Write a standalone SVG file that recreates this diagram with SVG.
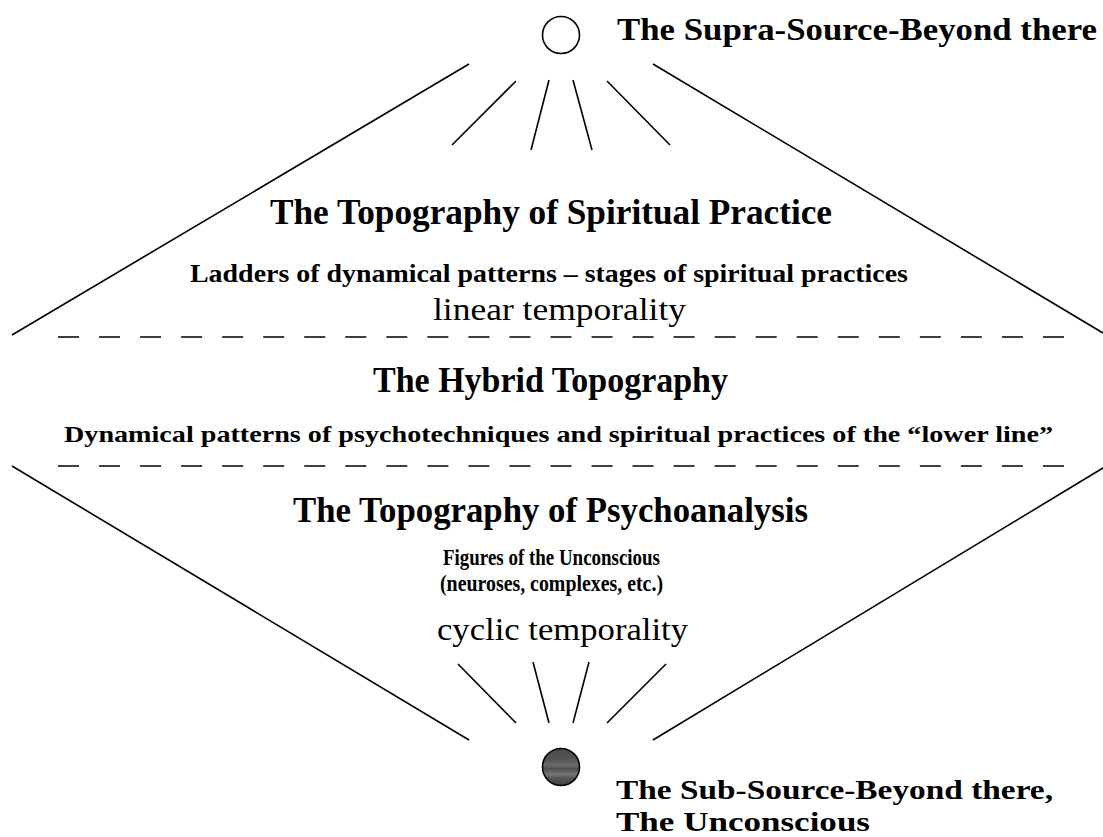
<svg xmlns="http://www.w3.org/2000/svg" width="1103" height="837" viewBox="0 0 1103 837">
<style>
.ln{stroke:#000;stroke-width:1.6;fill:none;stroke-linecap:butt}
.dash{stroke:#000;stroke-width:1.6;fill:none;stroke-dasharray:21 20.04}
.b{font-family:"Liberation Serif","Times New Roman",serif;font-weight:bold;fill:#000}
.r{font-family:"Liberation Serif","Times New Roman",serif;font-weight:normal;fill:#000}
.t1{font-size:36px}
.t2{font-size:26px}
.t2b{font-size:24px}
.t3{font-size:24px}
.t4{font-size:32px}
.src{font-size:31px}
.sub{font-size:28px}
</style>
<defs>
<linearGradient id="dark" x1="0" y1="0" x2="0" y2="1">
<stop offset="0" stop-color="#4a4a4a"/>
<stop offset="0.3" stop-color="#555"/>
<stop offset="0.45" stop-color="#6a6a6a"/>
<stop offset="0.55" stop-color="#505050"/>
<stop offset="0.7" stop-color="#777"/>
<stop offset="0.8" stop-color="#555"/>
<stop offset="1" stop-color="#444"/>
</linearGradient>
</defs>
<rect width="1103" height="837" fill="#fff"/>
<g id="connectors">
<line class="ln" x1="469" y1="64" x2="12" y2="335"/>
<line class="ln" x1="653" y1="64" x2="1103" y2="333"/>
<line class="ln" x1="516" y1="81" x2="452" y2="145"/>
<line class="ln" x1="549" y1="80" x2="531" y2="150"/>
<line class="ln" x1="573" y1="80" x2="592" y2="150"/>
<line class="ln" x1="607" y1="81" x2="670" y2="145"/>
<line class="ln" x1="12" y1="466" x2="469" y2="740"/>
<line class="ln" x1="1103" y1="468" x2="653" y2="740"/>
<line class="ln" x1="458" y1="664" x2="516" y2="723"/>
<line class="ln" x1="533" y1="662" x2="549" y2="723"/>
<line class="ln" x1="589" y1="662" x2="573" y2="723"/>
<line class="ln" x1="666" y1="664" x2="607" y2="723"/>
<line class="dash" x1="58" y1="337" x2="1064" y2="337"/>
<line class="dash" x1="58" y1="466" x2="1064" y2="466"/>
</g>
<g id="supra-source">
<circle cx="561" cy="35" r="18.5" fill="#fff" stroke="#000" stroke-width="1.6"/>
<text class="b src" x="617" y="40" textLength="480" lengthAdjust="spacingAndGlyphs">The Supra-Source-Beyond there</text>
</g>
<g id="spiritual-practice">
<text class="b t1" x="270" y="224" textLength="562" lengthAdjust="spacingAndGlyphs">The Topography of Spiritual Practice</text>
<text class="b t2" x="190" y="282" textLength="718" lengthAdjust="spacingAndGlyphs">Ladders of dynamical patterns – stages of spiritual practices</text>
<text class="r t4" x="433" y="320" textLength="253" lengthAdjust="spacingAndGlyphs">linear temporality</text>
</g>
<g id="hybrid">
<text class="b t1" x="373" y="392" textLength="355" lengthAdjust="spacingAndGlyphs">The Hybrid Topography</text>
<text class="b t2b" x="64" y="442" textLength="989" lengthAdjust="spacingAndGlyphs">Dynamical patterns of psychotechniques and spiritual practices of the “lower line”</text>
</g>
<g id="psychoanalysis">
<text class="b t1" x="293" y="522" textLength="515" lengthAdjust="spacingAndGlyphs">The Topography of Psychoanalysis</text>
<text class="b t3" x="443" y="565" textLength="217" lengthAdjust="spacingAndGlyphs">Figures of the Unconscious</text>
<text class="b t3" x="440" y="591" textLength="223" lengthAdjust="spacingAndGlyphs">(neuroses, complexes, etc.)</text>
<text class="r t4" x="437" y="640" textLength="251" lengthAdjust="spacingAndGlyphs">cyclic temporality</text>
</g>
<g id="sub-source">
<circle cx="561" cy="767" r="18.5" fill="url(#dark)" stroke="#000" stroke-width="1.6"/>
<text class="b sub" x="616" y="799" textLength="437" lengthAdjust="spacingAndGlyphs">The Sub-Source-Beyond there,</text>
<text class="b sub" x="616" y="831" textLength="254" lengthAdjust="spacingAndGlyphs">The Unconscious</text>
</g>
</svg>
